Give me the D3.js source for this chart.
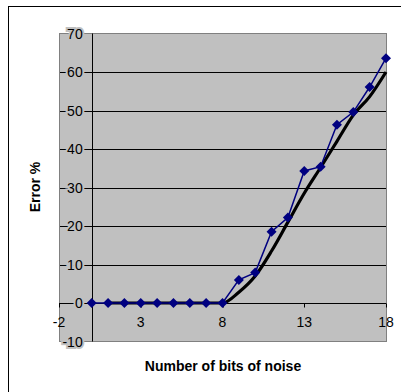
<!DOCTYPE html>
<html><head><meta charset="utf-8">
<script src="https://cdn.jsdelivr.net/npm/d3@7"></script>
<style>body{margin:0;background:#fff}svg{display:block}</style>
</head><body>
<svg id="c" width="401" height="392"></svg>
<script>
const bits = [0,1,2,3,4,5,6,7,8,9,10,11,12,13,14,15,16,17,18];
const measured = [0,0,0,0,0,0,0,0,0,6.0,7.9,18.5,22.2,34.3,35.4,46.3,49.6,56.1,63.6];
const modelBits = [1,2,3,4,5,6,7,8,9,10,11,12,13,14,15,16,17,18];
const model = [0,0,0,0,0,0,0,0,2.8,7,13.5,21,28.5,35.2,42,48.8,53.6,60];
const xTicks = [-2,3,8,13,18];
const yTicks = [-10,0,10,20,30,40,50,60,70];
const xTitle = "Number of bits of noise";
const yTitle = "Error %";

const svg = d3.select("#c");
const font = "'Liberation Sans', Arial, sans-serif";
const x = d3.scaleLinear().domain([-2,18]).range([59,386]);
const y = d3.scaleLinear().domain([-10,70]).range([341.5,33.5]);

// outer chart border
svg.append("rect").attr("x",8.5).attr("y",6.5).attr("width",420).attr("height",420)
  .attr("fill","#fff").attr("stroke","#000").attr("stroke-width",1);

// plot area
svg.append("rect").attr("x",x(-2)+0.5).attr("y",y(70)).attr("width",x(18)-x(-2)).attr("height",y(-10)-y(70))
  .attr("fill","#c0c0c0");

// gridlines
svg.append("g").selectAll("line").data(yTicks.filter(v=>v>-10&&v<70)).join("line")
  .attr("x1",x(-2)).attr("x2",x(18)).attr("y1",d=>Math.round(y(d))+0.5).attr("y2",d=>Math.round(y(d))+0.5)
  .attr("stroke","#000").attr("stroke-width",1);

// plot border
svg.append("rect").attr("x",x(-2)+0.5).attr("y",y(70)).attr("width",x(18)-x(-2)).attr("height",y(-10)-y(70))
  .attr("fill","none").attr("stroke","#808080").attr("stroke-width",1);

// y axis line at x=0
const x0 = Math.round(x(0))+0.5;
svg.append("line").attr("x1",x0).attr("x2",x0).attr("y1",y(70)).attr("y2",y(-10)).attr("stroke","#000");
// x axis line at y=0
const y0 = Math.round(y(0))+0.5;
svg.append("line").attr("x1",x(-2)).attr("x2",x(18)).attr("y1",y0).attr("y2",y0).attr("stroke","#000");
// x ticks
svg.append("g").selectAll("line").data(xTicks).join("line")
  .attr("x1",d=>Math.round(x(d))+0.5).attr("x2",d=>Math.round(x(d))+0.5).attr("y1",y0).attr("y2",y0+4).attr("stroke","#000");

// y tick labels (masked background)
svg.append("g").selectAll("text").data(yTicks).join("text")
  .attr("x",x(0)-9).attr("y",d=>y(d)).attr("dy","0.36em").attr("text-anchor","end")
  .attr("font-family",font).attr("font-size",14).attr("fill","#000")
  .attr("stroke","#c0c0c0").attr("stroke-width",4).attr("paint-order","stroke")
  .text(d=>d);

// x tick labels
svg.append("g").selectAll("text").data(xTicks).join("text")
  .attr("x",d=>x(d)).attr("y",327).attr("text-anchor","middle")
  .attr("font-family",font).attr("font-size",14).attr("fill","#000")
  .text(d=>d);

// model line (black, smooth)
const modelData = modelBits.map((b,i)=>[b,model[i]]);
svg.append("path").datum(modelData)
  .attr("d",d3.line().x(d=>x(d[0])).y(d=>y(d[1])).curve(d3.curveMonotoneX))
  .attr("fill","none").attr("stroke","#000").attr("stroke-width",3.2);

// measured series (navy, diamonds)
const measData = bits.map((b,i)=>[b,measured[i]]);
svg.append("path").datum(measData)
  .attr("d",d3.line().x(d=>x(d[0])).y(d=>y(d[1])))
  .attr("fill","none").attr("stroke","#000080").attr("stroke-width",1.5);
svg.append("g").selectAll("path").data(measData).join("path")
  .attr("transform",d=>`translate(${x(d[0])},${y(d[1])})`)
  .attr("d","M0,-5L5,0L0,5L-5,0Z").attr("fill","#000080");

// axis titles
svg.append("text").attr("x",223).attr("y",371).attr("text-anchor","middle")
  .attr("font-family",font).attr("font-weight","bold").attr("font-size",14).text(xTitle);
svg.append("text").attr("transform","translate(40,187) rotate(-90)").attr("text-anchor","middle")
  .attr("font-family",font).attr("font-weight","bold").attr("font-size",14).text(yTitle);
</script>
</body></html>
